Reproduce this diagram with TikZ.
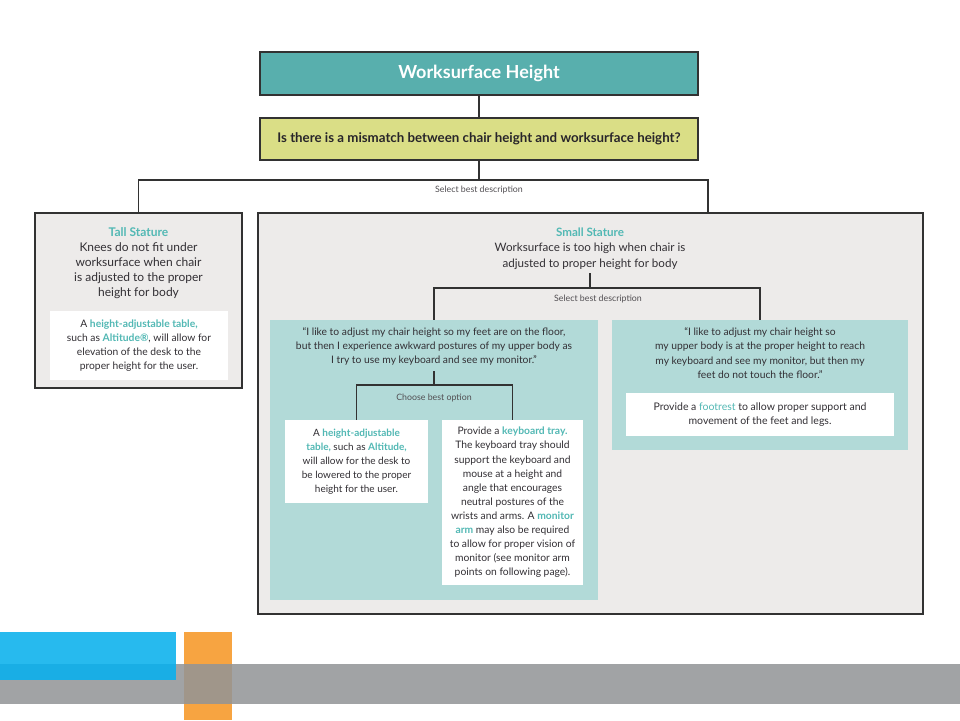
\documentclass[tikz,border=0pt]{standalone}
\usepackage{fontspec}
\setmainfont{Lato}
\definecolor{titleteal}{RGB}{88,175,173}
\definecolor{qyellow}{RGB}{218,222,134}
\definecolor{panelgray}{RGB}{237,235,234}
\definecolor{lightteal}{RGB}{178,218,216}
\definecolor{accent}{RGB}{82,184,180}
\definecolor{ink}{RGB}{50,47,52}
\definecolor{edge}{RGB}{50,50,50}
\definecolor{fblue}{RGB}{39,186,238}
\definecolor{fblueover}{RGB}{25,174,229}
\definecolor{forange}{RGB}{247,164,65}
\definecolor{forangeover}{RGB}{160,150,138}
\definecolor{fgray}{RGB}{161,163,165}
\newcommand{\acc}[1]{\textcolor{accent}{\bfseries #1}}
\begin{document}
\begin{tikzpicture}[x=1pt,y=-1pt,
  frame/.style={draw=edge, line width=1.4pt, inner sep=0pt},
  panel/.style={frame, fill=panelgray},
  tealpanel/.style={fill=lightteal, inner sep=0pt},
  whitebox/.style={fill=white, inner sep=0pt, align=center, text=ink},
  conn/.style={draw=edge, line width=1.4pt},
  lbl/.style={font=\fontsize{8.8}{10}\selectfont, text=ink!85, inner sep=0pt},
  body/.style={align=center, text=ink, inner sep=0pt, anchor=north}
]
\useasboundingbox (0,0) rectangle (960,720);

% footer
\fill[forange] (184,632) rectangle (232,720);
\fill[fblue] (0,632) rectangle (176,680);
\fill[fgray] (0,664) rectangle (960,704);
\fill[fblueover] (0,664) rectangle (176,680);
\fill[forangeover] (184,664) rectangle (232,704);

% top boxes
\node[frame, fill=titleteal, minimum width=438pt, minimum height=43pt, text=white,
  font=\fontsize{18}{20}\selectfont\bfseries] (title) at (479,73.5) {Worksurface Height};
\node[frame, fill=qyellow, minimum width=438pt, minimum height=42pt, text=ink!80!black,
  font=\fontsize{13.3}{15}\selectfont\bfseries] (quest) at (479,139) {Is there is a mismatch between chair height and worksurface height?};
\draw[conn] (title) -- (quest);

% level panels
\node[panel, minimum width=207pt, minimum height=175pt] (tall) at (138.5,300.5) {};
\node[panel, minimum width=665pt, minimum height=401pt] (small) at (590.5,413.5) {};
\coordinate (b1) at (479,180);
\coordinate (sR) at (708,213);
\draw[conn] (quest) -- (b1);
\draw[conn] (tall.north) |- (b1) -| (sR);
\node[lbl] (sel1) at (479,190) {Select best description};

% tall stature
\node[body, font=\fontsize{12}{15.1}\selectfont] (ttext) at (138.5,227)
  {\acc{Tall Stature}\\Knees do not fit under\\worksurface when chair\\is adjusted to the proper\\height for body};
\node[whitebox, minimum width=178pt, minimum height=69pt, font=\fontsize{10.3}{14}\selectfont] (twhite) at (139,345.5)
  {A \acc{height-adjustable table,}\\such as \acc{Altitude®}, will allow for\\elevation of the desk to the\\proper height for the user.};

% small stature
\node[body, font=\fontsize{11.6}{15.5}\selectfont] (stext) at (590,227.5)
  {\acc{Small Stature}\\Worksurface is too high when chair is\\adjusted to proper height for body};
\node[tealpanel, minimum width=328pt, minimum height=280pt] (q1) at (434,460) {};
\node[tealpanel, minimum width=296pt, minimum height=130pt] (q2) at (760,385) {};
\coordinate (sb) at (590,288);
\draw[conn] (590,273) coordinate (stop) -- (sb);
\draw[conn] (q1.north) |- (sb) -| (q2.north);
\node[lbl] (sel2) at (598,299) {Select best description};

% quote 1
\node[body, font=\fontsize{10.3}{14}\selectfont] (q1text) at (434,327.5)
  {“I like to adjust my chair height so my feet are on the floor,\\but then I experience awkward postures of my upper body as\\I try to use my keyboard and see my monitor.”};
\node[whitebox, minimum width=143pt, minimum height=83pt, font=\fontsize{10}{14}\selectfont] (optA) at (356.5,461.5)
  {A \acc{height-adjustable}\\\acc{table,} such as \acc{Altitude,}\\will allow for the desk to\\be lowered to the proper\\height for the user.};
\node[whitebox, minimum width=141pt, minimum height=165pt, font=\fontsize{10.3}{14.1}\selectfont] (optB) at (512.5,502.5)
  {Provide a \acc{keyboard tray.}\\The keyboard tray should\\support the keyboard and\\mouse at a height and\\angle that encourages\\neutral postures of the\\wrists and arms. A \acc{monitor}\\\acc{arm} may also be required\\to allow for proper vision of\\monitor (see monitor arm\\points on following page).};
\coordinate (cb) at (434,385);
\draw[conn] (434,371) coordinate (q1bot) -- (cb);
\draw[conn] (optA.north) |- (cb) -| (optB.north);
\node[lbl] (choose) at (434,398) {Choose best option};

% quote 2
\node[body, font=\fontsize{10.3}{14.3}\selectfont] (q2text) at (760,327.5)
  {“I like to adjust my chair height so\\my upper body is at the proper height to reach\\my keyboard and see my monitor, but then my\\feet do not touch the floor.”};
\node[whitebox, minimum width=268pt, minimum height=43pt, font=\fontsize{10.5}{14}\selectfont] (q2white) at (760,414.5)
  {Provide a \textcolor{accent}{footrest} to allow proper support and\\movement of the feet and legs.};
\end{tikzpicture}
\end{document}
